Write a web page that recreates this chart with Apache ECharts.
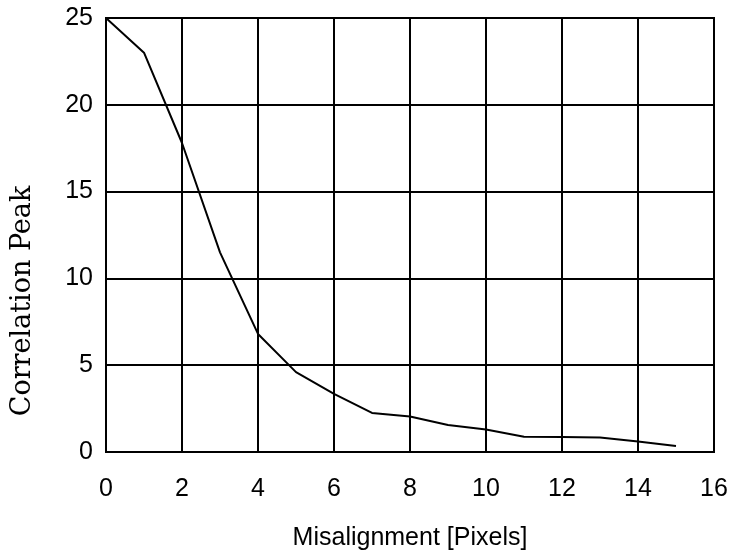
<!DOCTYPE html>
<html>
<head>
<meta charset="utf-8">
<script src="https://cdn.jsdelivr.net/npm/echarts@6/dist/echarts.min.js"></script>
<style>
  html, body { margin: 0; padding: 0; background: #fff; }
  #chart { width: 736px; height: 556px; }
</style>
</head>
<body>
<div id="chart"></div>
<script>
// misalignment in pixels vs correlation peak
var misalign = [0, 1, 2, 3, 4, 5, 6, 7, 8, 9, 10, 11, 12, 13, 14, 15];
var peak = [25, 23, 17.8, 11.5, 6.8, 4.6, 3.35, 2.25, 2.05, 1.55, 1.3, 0.88, 0.86, 0.83, 0.6, 0.35];

var points = [];
for (var i = 0; i < misalign.length; i++) {
    points.push([misalign[i], peak[i]]);
}

var myChart = echarts.init(document.getElementById('chart'));
var option = {
    backgroundColor: '#fff',
    animation: false,
    grid: {
        left: 106,
        right: 22,
        top: 18,
        bottom: 104,
        containLabel: false,
        outerBoundsMode: 'none',
        show: true,
        borderColor: '#000',
        borderWidth: 2
    },
    xAxis: {
        type: 'value',
        min: 0,
        max: 16,
        interval: 2,
        name: 'Misalignment [Pixels]',
        nameLocation: 'middle',
        nameGap: 74,
        nameTextStyle: { fontFamily: 'Liberation Sans', fontSize: 25, color: '#000' },
        axisLine: { lineStyle: { color: '#000', width: 2 } },
        axisTick: { show: false },
        axisLabel: { fontFamily: 'Liberation Sans', fontSize: 25, color: '#000', margin: 25 },
        splitLine: { show: true, lineStyle: { color: '#000', width: 2 } }
    },
    yAxis: {
        type: 'value',
        min: 0,
        max: 25,
        interval: 5,
        name: 'Correlation Peak',
        nameLocation: 'middle',
        nameGap: 70,
        nameTextStyle: { fontFamily: 'DejaVu Serif', fontSize: 27, color: '#000', padding: [0, 132, 0, 0] },
        axisLine: { lineStyle: { color: '#000', width: 2 } },
        axisTick: { show: false },
        axisLabel: { fontFamily: 'Liberation Sans', fontSize: 25, color: '#000', margin: 13 },
        splitLine: { show: true, lineStyle: { color: '#000', width: 2 } }
    },
    series: [{
        type: 'line',
        data: points,
        showSymbol: false,
        lineStyle: { color: '#000', width: 2 }
    }]
};
myChart.setOption(option);
</script>
</body>
</html>
